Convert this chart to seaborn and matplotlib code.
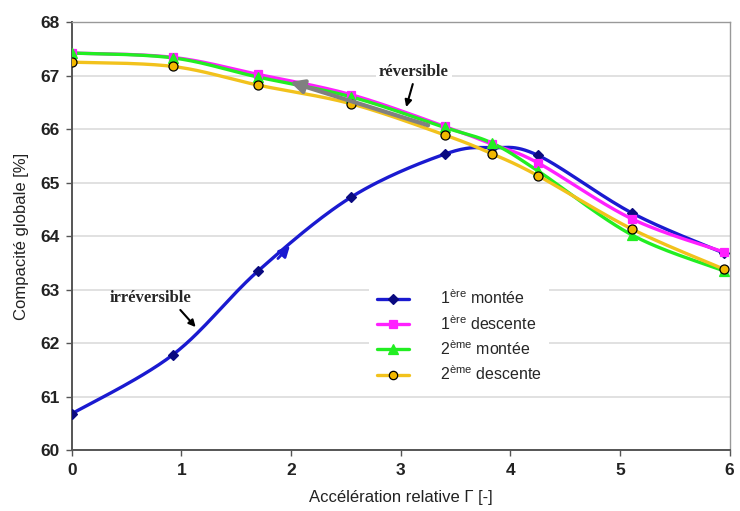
import numpy as np
import matplotlib
matplotlib.use("Agg")
import matplotlib.pyplot as plt
import seaborn as sns
from matplotlib.lines import Line2D

# values
accel = [0.0, 0.92, 1.70, 2.55, 3.40, 3.83, 4.25, 5.11, 5.95]
montee_1 = [60.68, 61.78, 63.35, 64.73, 65.53, 65.65, 65.51, 64.43, 63.68]
descente_1 = [67.42, 67.34, 67.02, 66.64, 66.05, 65.72, 65.37, 64.32, 63.70]
montee_2 = [67.42, 67.33, 66.97, 66.60, 66.03, 65.74, 65.22, 64.02, 63.35]
descente_2 = [67.25, 67.17, 66.82, 66.47, 65.89, 65.54, 65.13, 64.13, 63.38]

series_labels = ["1$^{\\rm ère}$ montée", "1$^{\\rm ère}$ descente",
                 "2$^{\\rm ème}$ montée", "2$^{\\rm ème}$ descente"]
y_ticks = [60, 61, 62, 63, 64, 65, 66, 67, 68]
x_ticks = [0, 1, 2, 3, 4, 5, 6]


def smooth(x, y, n=30):
    # spreadsheet-style smoothed line (cardinal spline through the points)
    x = np.asarray(x, float)
    y = np.asarray(y, float)
    p = np.column_stack([x, y])
    pts = np.vstack([p[0], p, p[-1]])
    out = []
    t = np.linspace(0, 1, n)[:, None]
    for i in range(1, len(pts) - 2):
        p0, p1, p2, p3 = pts[i - 1], pts[i], pts[i + 1], pts[i + 2]
        c1 = p1 + (p2 - p0) / 6
        c2 = p2 - (p3 - p1) / 6
        seg = ((1 - t) ** 3) * p1 + 3 * ((1 - t) ** 2) * t * c1 + 3 * (1 - t) * t ** 2 * c2 + t ** 3 * p2
        out.append(seg if i == 1 else seg[1:])
    out = np.vstack(out)
    return out[:, 0], out[:, 1]


sns.set_style("white")
plt.rcParams['font.family'] = ['Liberation Sans', 'DejaVu Sans']
plt.rcParams['mathtext.fontset'] = 'custom'
plt.rcParams['mathtext.rm'] = 'Liberation Sans'

fig = plt.figure(figsize=(7.4, 5.11), dpi=100)
ax = fig.add_axes([0.097, 0.119, 0.889, 0.838])

styles = [
    (montee_1, "#1a1ad0", "D", "#0a0a80", "#0a0a80", 5.5),
    (descente_1, "#ff20ff", "s", "#ff20ff", "#ff20ff", 6),
    (montee_2, "#22ee22", "^", "#22ee22", "#22ee22", 7),
    (descente_2, "#f2c21c", "o", "#f2b800", "black", 6.5),
]

handles = []
for (vals, col, mk, face, edge, ms), lab in zip(styles, series_labels):
    xs, ys = smooth(accel, vals)
    sns.lineplot(x=xs, y=ys, color=col, lw=2.4, sort=False, ax=ax, zorder=3)
    ax.plot(accel, vals, ls="none", marker=mk, ms=ms, mfc=face, mec=edge,
            mew=0.9, zorder=4)
    handles.append(Line2D([0], [0], color=col, lw=2.4, marker=mk, ms=ms - 0.5,
                          mfc=face, mec=edge, mew=0.9))

ax.set_xlim(0, 6)
ax.set_ylim(60, 68)
ax.set_xticks(x_ticks)
ax.set_yticks(y_ticks)
ax.yaxis.grid(True, color="#dcdcdc", lw=1.2)
ax.set_axisbelow(True)
ax.tick_params(axis="both", labelsize=12.5, length=4, width=1, color="#555555",
               direction="out", left=True, bottom=True, pad=5)
for lbl in ax.get_xticklabels() + ax.get_yticklabels():
    lbl.set_fontweight("bold")
    lbl.set_color("#222222")

for side in ["left", "bottom"]:
    ax.spines[side].set_color("#555555")
    ax.spines[side].set_linewidth(1.4)
for side in ["top", "right"]:
    ax.spines[side].set_color("#999999")
    ax.spines[side].set_linewidth(1.0)

ax.set_xlabel("Accélération relative Γ [-]", fontsize=12, labelpad=9, color="#222222")
ax.set_ylabel("Compacité globale [%]", fontsize=12, labelpad=8, color="#222222")

# arrows drawn on the curves
ax.annotate("", xy=(1.99, 66.88), xytext=(3.25, 66.07),
            arrowprops=dict(arrowstyle="-|>", color="#808080", lw=3,
                            mutation_scale=20, shrinkA=0, shrinkB=0), zorder=5)
ax.annotate("", xy=(1.99, 63.82), xytext=(1.88, 63.58),
            arrowprops=dict(arrowstyle="-|>", color="#1a1ad0", lw=2,
                            mutation_scale=16, shrinkA=0, shrinkB=0), zorder=5)

ax.text(3.12, 67.07, "réversible", ha="center", va="center", fontsize=12,
        fontweight="bold", family=["Liberation Serif", "DejaVu Serif"],
        bbox=dict(facecolor="white", edgecolor="none", pad=2), zorder=2)
ax.annotate("", xy=(3.05, 66.41), xytext=(3.11, 66.84),
            arrowprops=dict(arrowstyle="-|>", color="black", lw=1.5,
                            mutation_scale=10, shrinkA=0, shrinkB=0))
ax.text(0.72, 62.84, "irréversible", ha="center", va="center", fontsize=12,
        fontweight="bold", family=["Liberation Serif", "DejaVu Serif"])
ax.annotate("", xy=(1.13, 62.30), xytext=(0.99, 62.62),
            arrowprops=dict(arrowstyle="-|>", color="black", lw=1.5,
                            mutation_scale=10, shrinkA=0, shrinkB=0))

leg = ax.legend(handles, series_labels, loc="upper left",
                bbox_to_anchor=(0.44, 0.415), frameon=True, fontsize=11.5,
                handlelength=2.0, handletextpad=1.9, labelspacing=0.42,
                borderpad=0.5)
leg.get_frame().set_facecolor("white")
leg.get_frame().set_edgecolor("none")
leg.get_frame().set_alpha(1)

fig.savefig("out.png", dpi=100)
